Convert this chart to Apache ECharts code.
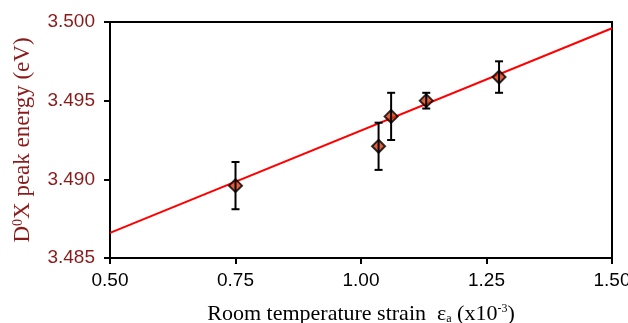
<!DOCTYPE html>
<html>
<head>
<meta charset="utf-8">
<script src="https://cdn.jsdelivr.net/npm/echarts@6/dist/echarts.min.js"></script>
<style>
	html, body { margin: 0; padding: 0; background: #fff; }
	#main { width: 628px; height: 323px; }
</style>
</head>
<body>
<div id="main"></div>
<script>
// measured points: strain (x1e-3), D0X energy (eV), error (eV)
var strain = [0.75, 1.035, 1.06, 1.13, 1.275];
var energy = [3.4896, 3.4921, 3.4940, 3.4950, 3.4965];
var errBar = [0.0015, 0.0015, 0.0015, 0.0005, 0.0010];
// linear fit end points
var fitX = [0.50, 1.50];
var fitY = [3.4866, 3.4996];

var darkRed = '#8b1a1a';

var pts = [];
var errs = [];
for(var i = 0; i < strain.length; i++) {
	pts.push([strain[i], energy[i]]);
	errs.push([strain[i], energy[i] - errBar[i], energy[i] + errBar[i]]);
}
var fit = [];
for(var j = 0; j < fitX.length; j++) {
	fit.push([fitX[j], fitY[j]]);
}

var myChart = echarts.init(document.getElementById('main'));
var option = {
	animation: false,
	grid: {
		left: 110,
		right: 16,
		top: 22,
		bottom: 65,
		outerBoundsMode: 'none',
		containLabel: false,
		show: true,
		borderColor: '#000',
		borderWidth: 2
	},
	xAxis: {
		type: 'value',
		min: 0.5,
		max: 1.5,
		interval: 0.25,
		splitLine: { show: false },
		axisLine: { lineStyle: { color: '#000', width: 2 } },
		axisTick: { inside: false, length: 6, lineStyle: { color: '#000', width: 2 } },
		axisLabel: {
			color: '#000',
			fontFamily: 'Liberation Sans',
			fontSize: 19,
			margin: 13,
			formatter: function(v) { return v.toFixed(2); }
		},
		name: 'Room temperature strain  ε{sub|a} (x10{sup|-3})',
		nameLocation: 'middle',
		nameGap: 45,
		nameTextStyle: {
			color: '#000',
			fontFamily: 'Liberation Serif',
			fontSize: 22,
			rich: {
				sub: { fontFamily: 'Liberation Serif', fontSize: 12, color: '#000', verticalAlign: 'bottom', padding: [10, 0, 0, 0] },
				sup: { fontFamily: 'Liberation Serif', fontSize: 12, color: '#000', verticalAlign: 'top', padding: [0, 0, 8, 0] }
			}
		}
	},
	yAxis: {
		type: 'value',
		min: 3.485,
		max: 3.5,
		interval: 0.005,
		splitLine: { show: false },
		axisLine: { lineStyle: { color: '#000', width: 2 } },
		axisTick: { inside: false, length: 6, lineStyle: { color: '#000', width: 2 } },
		axisLabel: {
			color: darkRed,
			fontFamily: 'Liberation Sans',
			fontSize: 19,
			margin: 15,
			formatter: function(v) { return v.toFixed(3); }
		},
		name: 'D{sup|0}X peak energy (eV)',
		nameLocation: 'middle',
		nameRotate: 90,
		nameGap: 76,
		nameTextStyle: {
			color: darkRed,
			fontFamily: 'Liberation Serif',
			fontSize: 23,
			rich: {
				sup: { fontFamily: 'Liberation Serif', fontSize: 14, color: darkRed, verticalAlign: 'top', padding: [0, 0, 8, 0] }
			}
		}
	},
	series: [{
		type: 'line',
		data: fit,
		symbol: 'none',
		lineStyle: { color: '#ff0000', width: 2 },
		z: 2
	}, {
		type: 'scatter',
		data: pts,
		symbol: 'diamond',
		symbolSize: 13,
		itemStyle: { color: '#d8380c', borderColor: '#000', borderWidth: 2 },
		z: 3
	}, {
		type: 'custom',
		data: errs,
		z: 4,
		renderItem: function(params, api) {
			var x = api.value(0);
			var lo = api.coord([x, api.value(1)]);
			var hi = api.coord([x, api.value(2)]);
			var cap = 4;
			var st = { stroke: '#000', lineWidth: 2 };
			return {
				type: 'group',
				children: [
					{ type: 'line', shape: { x1: lo[0], y1: lo[1], x2: hi[0], y2: hi[1] }, style: st },
					{ type: 'line', shape: { x1: lo[0] - cap, y1: lo[1], x2: lo[0] + cap, y2: lo[1] }, style: st },
					{ type: 'line', shape: { x1: hi[0] - cap, y1: hi[1], x2: hi[0] + cap, y2: hi[1] }, style: st }
				]
			};
		}
	}]
};
myChart.setOption(option);
</script>
</body>
</html>
